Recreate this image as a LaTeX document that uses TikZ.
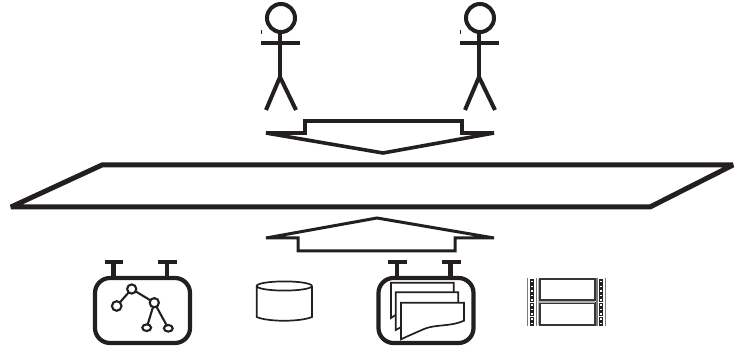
\documentclass[tikz,border=0pt]{standalone}
\definecolor{ink}{HTML}{231F20}
\tikzset{
  x=0.75pt,y=-0.75pt,
  actorline/.style={draw=ink,line width=4pt*0.75},
  arrowline/.style={draw=ink,line width=3pt*0.75,miter limit=3,line join=miter,fill=white},
  slab/.style={draw=ink,line width=5pt*0.75,line join=miter,miter limit=3},
  boxline/.style={draw=ink,line width=4.2pt*0.75},
  thinline/.style={draw=ink,line width=1.7pt*0.75},
  treeline/.style={draw=ink,line width=2.1pt*0.75},
  filmframe/.style={draw=ink!90,line width=2pt*0.75},
  filmbar/.style={draw=ink!60,line width=1.6pt*0.75},
  hole/.style={draw=ink,line width=1.4pt*0.75,fill=white},
}
\newcommand{\actorfig}[1]{%
  \begin{scope}[xshift=#1*0.75pt]
    \draw[actorline] (281,18) circle (14);
    \draw[actorline] (280,32) -- (280,77);
    \draw[actorline] (261,43) -- (300,43);
    \draw[actorline,line join=miter] (266,110) -- (280,77) -- (296,110);
    \draw[draw=ink,line width=0.6pt] (261.3,30) -- (261.3,34);
  \end{scope}}
\newcommand{\topbox}[1]{%
  \draw[boxline,rounded corners=15*0.75pt] (#1,278) rectangle (#1+95,343);
  \draw[boxline] (#1+18.5,278) -- (#1+18.5,262);
  \draw[boxline] (#1+9.5,262) -- (#1+28,262);
  \draw[boxline] (#1+72,278) -- (#1+72,262);
  \draw[boxline] (#1+63,262) -- (#1+82,262);}
\newcommand{\filmstrip}[1]{%
  \foreach \k in {0,...,9}{
    \draw[hole] (#1,280.2+4.65*\k) rectangle ++(3,3);
  }}
\begin{document}
\begin{tikzpicture}
\useasboundingbox (0,0) rectangle (735,348);
\actorfig{0}
\actorfig{199}
% down arrow
\draw[arrowline,line width=3.6pt*0.75] (305,133) -- (305,121) -- (462,121) -- (462,133) -- (494,133) -- (383,153) -- (266,133) -- cycle;
% slab
\draw[slab] (102,165) -- (733,165) -- (650,207) -- (11,207) -- cycle;
% up arrow
\draw[arrowline] (298,238) -- (298,251) -- (455,251) -- (455,238) -- (494,238) -- (377,218) -- (266,238) -- cycle;
% left box with tree
\topbox{95}
\draw[treeline] (131.7,289) -- (116.7,306) (131.7,289) -- (154.3,302.7) -- (146.7,327.7) (154.3,302.7) -- (168.3,328.3);
\foreach \p/\a/\b in {{131.7,289}/4.6/4.6,{116.7,306}/4.8/4.8,{154.3,302.7}/4.6/4.6,{146.7,327.7}/4.4/3.3,{168.3,328.3}/4.4/3.3}{
  \draw[treeline,fill=white] (\p) ellipse ({\a} and {\b});
}
% cylinder
\draw[thinline] (256.7,286) -- (256.7,317) .. controls (268,322) and (300,322) .. (312,317) -- (312,286);
\draw[thinline,fill=white] (284.3,286) ellipse (27.6 and 4.6);
% right box with pages
\topbox{378.5}
\draw[thinline,fill=white] (391,282.7) -- (453.7,282.7) -- (453.7,293) -- (400,312) -- (391,318) -- cycle;
\draw[thinline,fill=white] (395.7,292.3) -- (458.3,292.3) -- (458.3,306) -- (405,325) -- (395.7,330) -- cycle;
\draw[thinline,fill=white] (401,302.7) -- (464,302.7) -- (464,320.7) .. controls (450,327) and (436,324) .. (424,329) .. controls (415,333) and (408,336) .. (401,339.3) -- cycle;
% film
\draw[filmbar] (527.5,278.5) -- (527.5,326) (536.5,278.5) -- (536.5,326);
\filmstrip{530.6}
\filmstrip{599.2}
\draw[filmbar] (597,278.5) -- (597,326) (605.5,278.5) -- (605.5,326);
\draw[filmframe] (540,279) rectangle (594.5,300.5);
\draw[filmframe] (540,303.5) rectangle (594.5,325);
\draw[draw=ink!35,line width=0.8pt] (538.6,279) -- (538.6,325) (539,302) -- (595,302);
\end{tikzpicture}
\end{document}
